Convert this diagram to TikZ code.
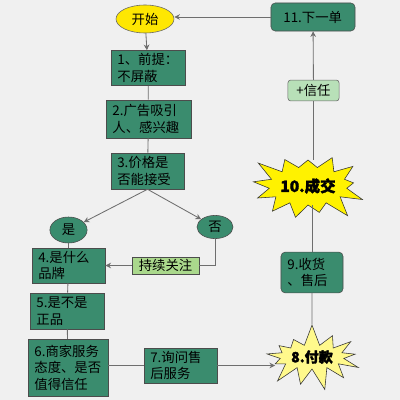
\documentclass[tikz,border=0pt]{standalone}
\usepackage{fontspec}
\setmainfont{Noto Sans CJK SC}[BoldFeatures={FakeBold=2}]
\usetikzlibrary{shapes.geometric,shapes.symbols,arrows.meta}
\definecolor{boxgreen}{RGB}{58,140,110}
\definecolor{keepgreen}{RGB}{170,216,140}
\definecolor{trustgreen}{RGB}{184,224,184}
\definecolor{linegray}{RGB}{110,110,110}
\definecolor{bggray}{RGB}{240,240,240}
\begin{document}
\begin{tikzpicture}
[
    x=0.025cm, y=-0.025cm,
    every node/.style={font=\fontsize{9.5}{11.8}\selectfont, inner sep=0pt},
    stepbox/.style={draw=black!70, fill=boxgreen, text width=#1, align=left, inner xsep=0.16cm},
    roundbox/.style={stepbox=#1, rounded corners=3pt},
    answer/.style={ellipse, draw=black!70, fill=boxgreen},
    burst/.style={starburst, draw=black!80, starburst points=13, starburst point height=0.55cm},
    line/.style={draw=linegray, line width=0.6pt},
    arrow/.style={line, -{Stealth[length=4pt,width=4pt]}},
]
\fill[bggray] (0,0) rectangle (400,400);
% top row
\node[ellipse, draw=black!60, fill=yellow!90!orange, minimum width=1.45cm, minimum height=0.7cm] (start) at (145,19) {开始};
\node[roundbox=1.78cm, minimum height=0.7cm, minimum width=2.1cm] (n11) at (313,17) {\hspace*{0.15cm}11.下一单};
% left column
\node[stepbox=1.53cm, minimum height=0.875cm, minimum width=1.85cm] (n1) at (148,68) {1、前提：\\不屏蔽};
\node[stepbox=1.8cm, minimum height=0.95cm, minimum width=2.12cm] (n2) at (148.5,119) {2.广告吸引\\人、感兴趣};
\node[stepbox=1.51cm, minimum height=0.9cm, minimum width=1.83cm] (n3) at (147.5,171) {3.价格是\\否能接受};
\node[answer, minimum width=0.93cm, minimum height=0.65cm] (yes) at (68.5,230) {是};
\node[answer, minimum width=0.9cm, minimum height=0.58cm] (no) at (215,227) {否};
\node[draw=black!70, fill=keepgreen, minimum width=1.68cm, minimum height=0.43cm] (keep) at (165.5,265.5) {持续关注};
\node[stepbox=1.51cm, minimum height=0.875cm, minimum width=1.83cm] (n4) at (68.5,265.5) {4.是什么\\品牌};
\node[stepbox=1.53cm, minimum height=0.9cm, minimum width=1.85cm] (n5) at (67,311) {5.是不是\\正品};
\node[stepbox=1.68cm, minimum height=1.42cm, minimum width=2cm] (n6) at (68,367.5) {6.商家服务\\态度、是否\\值得信任};
\node[stepbox=1.51cm, minimum height=0.875cm, minimum width=1.83cm] (n7) at (180.5,365.5) {7.询问售\\后服务};
% right column
\node[burst, fill=yellow!45!white, random starburst=7, minimum width=2.7cm, minimum height=1.7cm, font=\fontsize{10}{12}\selectfont\bfseries] (pay) at (312,357) {8.付款};
\node[roundbox=1.23cm, minimum height=1.02cm, minimum width=1.55cm] (n9) at (312,272.5) {9.收货\\、售后};
\node[burst, fill=yellow, random starburst=3, minimum width=2.95cm, minimum height=2.05cm, font=\fontsize{11}{13}\selectfont\bfseries] (deal) at (308,186) {10.成交};
\node[draw=black!60, fill=trustgreen, rounded corners=2pt, minimum width=1.28cm, minimum height=0.52cm] (trust) at (313.5,90.5) {+信任};
% connectors
\draw[arrow] (n11.west) -- (n11.west -| start.east);
\draw[arrow] (start) -- (n1);
\draw[line] (n1) -- (n2);
\draw[line] (n2) -- (n3);
\draw[arrow] (n3.south) -- (yes);
\draw[arrow] (n3.south) -- (no);
\draw[line] (no.south) |- (keep.east);
\draw[arrow] (keep) -- (n4);
\draw[line] (yes) -- (n4);
\draw[line] (n4) -- (n5);
\draw[line] (n5) -- (n6);
\draw[line] (n6.east |- n7) -- (n7);
\draw[arrow] (n7.east) -- (n7.east -| pay.west);
\draw[line] (pay) -- (n9);
\draw[line] (n9) -- (n9 |- deal.south);
\draw[line] (trust |- deal.north) -- (trust);
\draw[arrow] (trust) -- (n11);
\end{tikzpicture}
\end{document}
